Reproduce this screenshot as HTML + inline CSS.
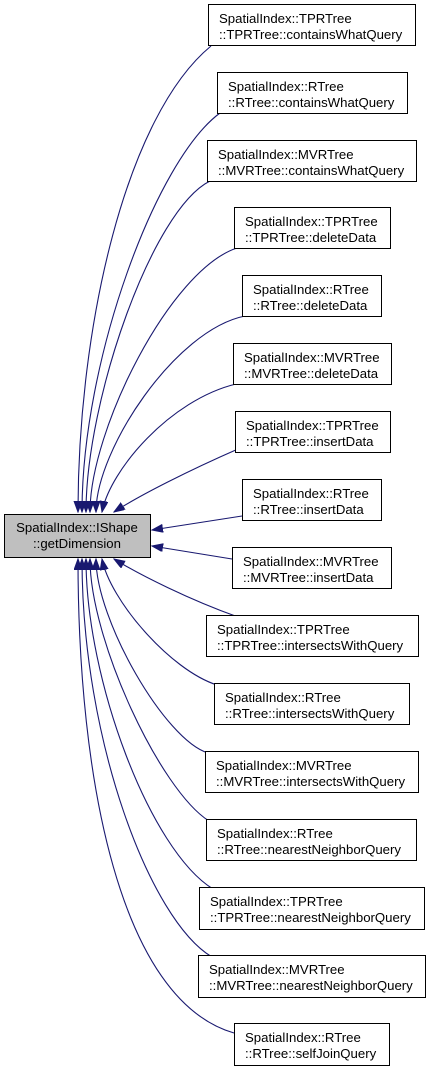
<!DOCTYPE html>
<html><head><meta charset="utf-8"><style>
html,body{margin:0;padding:0;background:#fff;}
svg{display:block;}
text{font-family:"Liberation Sans",Arial,sans-serif;font-size:13.2px;fill:#000;}
</style></head><body>
<svg width="432" height="1073" viewBox="0 0 432 1073" xmlns="http://www.w3.org/2000/svg">
<defs>
<marker id="a" markerUnits="userSpaceOnUse" markerWidth="12" markerHeight="9" refX="11" refY="4" orient="auto">
<path d="M0,0 L11,4 L0,8 z" fill="#191970" stroke="#191970"/>
</marker>
</defs>
<g fill="none" stroke="#191970" stroke-width="1.1" marker-end="url(#a)">
<path d="M211,46 C126,116 78,326 78,512"/>
<path d="M220,113 C156,160 82,360 82,512"/>
<path d="M210,181 C152,210 86,400 86,512"/>
<path d="M237,248 C170,270 90,430 90,512"/>
<path d="M245,316 C175,330 96,450 96,512"/>
<path d="M236,384 C170,400 110,470 102,512"/>
<path d="M238,449 C190,470 140,495 114,512"/>
<path d="M242,516 L152,530"/>
<path d="M232,559 L152,546"/>
<path d="M238,617 C190,600 140,575 114,559"/>
<path d="M217,685 C170,670 110,600 102,559"/>
<path d="M208,753 C165,740 96,620 96,559"/>
<path d="M209,821 C160,790 90,640 90,559"/>
<path d="M213,889 C150,850 86,680 86,559"/>
<path d="M212,957 C150,920 82,740 82,559"/>
<path d="M234,1033 C120,1000 78,780 78,559"/>
</g>
<g stroke="#000" stroke-width="1" fill="#fff">
<rect x="4.5" y="514.5" width="146" height="43" fill="#bfbfbf"/>
<rect x="208.5" y="4.5" width="207" height="41"/>
<rect x="217.5" y="72.5" width="190" height="41"/>
<rect x="207.5" y="140.5" width="209" height="41"/>
<rect x="234.5" y="207.5" width="156" height="41"/>
<rect x="242.5" y="275.5" width="139" height="41"/>
<rect x="233.5" y="343.5" width="158" height="41"/>
<rect x="235.5" y="411.5" width="155" height="41"/>
<rect x="242.5" y="479.5" width="139" height="41"/>
<rect x="232.5" y="547.5" width="159" height="41"/>
<rect x="206.5" y="615.5" width="212" height="41"/>
<rect x="214.5" y="683.5" width="195" height="41"/>
<rect x="205.5" y="751.5" width="213" height="41"/>
<rect x="206.5" y="819.5" width="210" height="41"/>
<rect x="199.5" y="887.5" width="225" height="42"/>
<rect x="198.5" y="955.5" width="227" height="42"/>
<rect x="234.5" y="1023.5" width="155" height="42"/>
</g>
<g>
<text x="77" y="532" text-anchor="middle">SpatialIndex::IShape</text><text x="77" y="548" text-anchor="middle">::getDimension</text>
<text x="219" y="23">SpatialIndex::TPRTree</text><text x="219" y="39">::TPRTree::containsWhatQuery</text>
<text x="228" y="91">SpatialIndex::RTree</text><text x="228" y="107">::RTree::containsWhatQuery</text>
<text x="218" y="159">SpatialIndex::MVRTree</text><text x="218" y="175">::MVRTree::containsWhatQuery</text>
<text x="245" y="226">SpatialIndex::TPRTree</text><text x="245" y="242">::TPRTree::deleteData</text>
<text x="253" y="294">SpatialIndex::RTree</text><text x="253" y="310">::RTree::deleteData</text>
<text x="244" y="362">SpatialIndex::MVRTree</text><text x="244" y="378">::MVRTree::deleteData</text>
<text x="246" y="430">SpatialIndex::TPRTree</text><text x="246" y="446">::TPRTree::insertData</text>
<text x="253" y="498">SpatialIndex::RTree</text><text x="253" y="514">::RTree::insertData</text>
<text x="243" y="566">SpatialIndex::MVRTree</text><text x="243" y="582">::MVRTree::insertData</text>
<text x="217" y="634">SpatialIndex::TPRTree</text><text x="217" y="650">::TPRTree::intersectsWithQuery</text>
<text x="225" y="702">SpatialIndex::RTree</text><text x="225" y="718">::RTree::intersectsWithQuery</text>
<text x="216" y="770">SpatialIndex::MVRTree</text><text x="216" y="786">::MVRTree::intersectsWithQuery</text>
<text x="217" y="838">SpatialIndex::RTree</text><text x="217" y="854">::RTree::nearestNeighborQuery</text>
<text x="210" y="906">SpatialIndex::TPRTree</text><text x="210" y="922">::TPRTree::nearestNeighborQuery</text>
<text x="209" y="974">SpatialIndex::MVRTree</text><text x="209" y="990">::MVRTree::nearestNeighborQuery</text>
<text x="245" y="1042">SpatialIndex::RTree</text><text x="245" y="1058">::RTree::selfJoinQuery</text>
</g>
</svg>
</body></html>
